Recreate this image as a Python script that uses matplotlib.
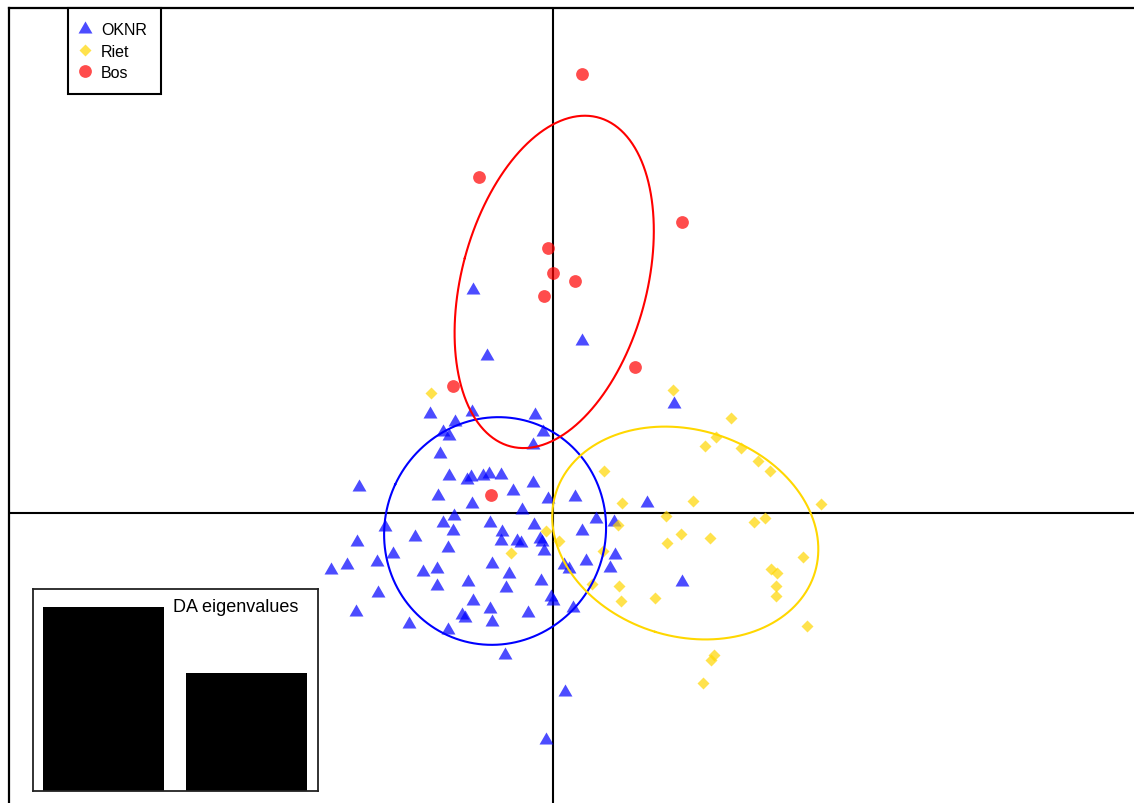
import numpy as np
import matplotlib
matplotlib.use("Agg")
import matplotlib.pyplot as plt
from matplotlib.lines import Line2D
from matplotlib.path import Path

plt.rcParams['font.family'] = ['Liberation Sans', 'DejaVu Sans']

# ---------------- data (discriminant function scores) ----------------
groups = ["OKNR", "Riet", "Bos"]

oknr_ld1 = [-0.80, -0.66, 0.29, 1.21, -1.23, -0.98, -1.10, -1.04, -0.81, -0.18,
            -0.10, -0.20, -1.13, -1.94, -1.04, -0.86, -0.82, -0.70, -0.64, -0.52,
            -0.20, -0.40, -1.15, -0.81, -0.05, 0.22, -0.31, 0.94, -0.99, -1.10,
            -1.00, -1.68, -1.38, -1.05, -1.96, -1.60, -1.76, -2.06, -2.22, -1.30,
            -1.16, -0.85, -1.16, -1.75, -0.80, -1.97, -0.91, -0.88, -1.44, -1.05,
            -0.63, -0.19, 0.43, 0.61, 0.29, -0.51, -0.52, -0.36, -0.32, -0.13,
            -0.11, -0.09, -0.61, -0.44, -0.47, -0.12, -0.63, -0.61, -0.25, -0.02,
            0.00, 0.20, 0.11, 0.16, 0.33, 0.62, 0.57, -0.48, 0.12, -0.07, 1.29]
oknr_ld2 = [2.23, 1.57, 1.72, 1.09, 0.99, 0.91, 0.81, 0.77, 1.01, 0.98,
            0.81, 0.68, 0.59, 0.26, 0.37, 0.33, 0.36, 0.37, 0.39, 0.38,
            0.30, 0.22, 0.17, 0.09, 0.14, 0.16, 0.03, 0.10, -0.03, -0.10,
            -0.18, -0.14, -0.24, -0.35, -0.29, -0.41, -0.49, -0.52, -0.57, -0.59,
            -0.56, -0.69, -0.73, -0.80, -0.88, -0.99, -1.02, -1.05, -1.11, -1.17,
            -0.10, -0.12, -0.06, -0.09, -0.18, -0.19, -0.28, -0.28, -0.30, -0.26,
            -0.29, -0.38, -0.51, -0.61, -0.75, -0.68, -0.96, -1.09, -1.00, -0.84,
            -0.88, -0.95, -0.52, -0.56, -0.48, -0.42, -0.55, -1.42, -1.79, -2.27, -0.69]

riet_ld1 = [1.20, 1.78, 1.63, 1.52, 1.88, 2.05, 2.17, 0.51, 0.69, 1.40,
            2.68, 1.13, 2.01, 2.12, 0.65, -0.07, 0.06, 1.28, 1.14, 1.57,
            0.50, 2.50, 2.18, 2.24, 0.39, 0.66, 2.23, 1.02, 0.68, 2.23,
            2.54, 1.61, 1.58, 1.50, -0.42, -1.22]
riet_ld2 = [1.23, 0.95, 0.76, 0.67, 0.65, 0.52, 0.42, 0.42, 0.10, 0.12,
            0.09, -0.03, -0.09, -0.05, -0.12, -0.18, -0.28, -0.21, -0.30, -0.25,
            -0.38, -0.44, -0.56, -0.60, -0.71, -0.73, -0.73, -0.85, -0.88, -0.83,
            -1.13, -1.42, -1.47, -1.70, -0.40, 1.20]

bos_ld1 = [0.29, -0.74, 1.29, -0.05, 0.00, 0.22, -0.09, 0.82, -1.00, -0.62]
bos_ld2 = [4.39, 3.36, 2.91, 2.65, 2.40, 2.32, 2.17, 1.46, 1.27, 0.18]

da_eigenvalues = [9.2, 5.9]

# ---------------- styling ----------------
point_cols = ["#0000FF", "#FFD700", "#FF0000"]
ell_cols = ["#0000FF", "#FFD700", "#FF0000"]
W, H = 1134, 804
fig = plt.figure(figsize=(W / 100, H / 100), dpi=100)

tri = Path([(-1, -0.577), (1, -0.577), (0, 1.155), (-1, -0.577)],
           [Path.MOVETO, Path.LINETO, Path.LINETO, Path.CLOSEPOLY])
markers = [tri, "D", "o"]
msizes = [11.6, 6.1, 9.2]

ax = fig.add_axes([9 / W, -10 / H, 1135 / W, 805 / H])
S = 100.0
ax.set_xlim((9 - 553) / S, (1144 - 553) / S)
ax.set_ylim((514 - 814) / S, (514 - 9) / S)
ax.set_xticks([])
ax.set_yticks([])
for side in ["right", "bottom"]:
    ax.spines[side].set_visible(False)
for side in ["left", "top"]:
    ax.spines[side].set_linewidth(1.6)
    ax.spines[side].set_color("black")

ax.axhline(0, color="black", lw=1.5, zorder=1)
ax.axvline(0, color="black", lw=1.5, zorder=1)

data = [(oknr_ld1, oknr_ld2), (riet_ld1, riet_ld2), (bos_ld1, bos_ld2)]
for (x, y), c, m, ms in zip(data, point_cols, markers, msizes):
    ax.plot(x, y, ls="", marker=m, ms=ms, color=c, alpha=0.7, mec="none", zorder=2)


def ellipse(x, y, cell=1.5, n=300):
    x = np.asarray(x)
    y = np.asarray(y)
    cov = np.cov(x, y, bias=True)
    vals, vecs = np.linalg.eigh(cov)
    t = np.linspace(0, 2 * np.pi, n)
    circ = np.vstack([np.cos(t), np.sin(t)]) * (cell * np.sqrt(vals))[:, None]
    pts = vecs @ circ
    return pts[0] + x.mean(), pts[1] + y.mean()


for (x, y), c in zip(data, ell_cols):
    ex, ey = ellipse(x, y)
    ax.plot(ex, ey, color=c, lw=1.5, zorder=3)

handles = [Line2D([], [], ls="", marker=m, ms=ms, color=c, alpha=0.7, mec="none")
           for m, ms, c in zip(markers, msizes, point_cols)]
leg = ax.legend(handles, groups, loc="upper left",
                bbox_to_anchor=((68 - 9) / 1135, 1.0), borderaxespad=0,
                frameon=True, fancybox=False, edgecolor="black", framealpha=1,
                fontsize=11.5, handlelength=0.35, handletextpad=0.83,
                borderpad=0.89, labelspacing=0.40)
leg.get_frame().set_linewidth(1.5)

# ---------------- inset: DA eigenvalues ----------------
ax2 = fig.add_axes([33 / W, (804 - 792) / H, 285 / W, 202 / H])
ax2.bar([0, 1], da_eigenvalues, width=0.846, color="black")
ax2.set_xlim(-0.493, 1.5)
ax2.set_ylim(0, max(da_eigenvalues) * 1.098)
ax2.set_xticks([])
ax2.set_yticks([])
for sp in ax2.spines.values():
    sp.set_linewidth(1.3)
    sp.set_color("#222222")
ax2.text(0.93, 0.955, "DA eigenvalues", transform=ax2.transAxes,
         ha="right", va="top", fontsize=13)

fig.savefig("out.png", dpi=100)
